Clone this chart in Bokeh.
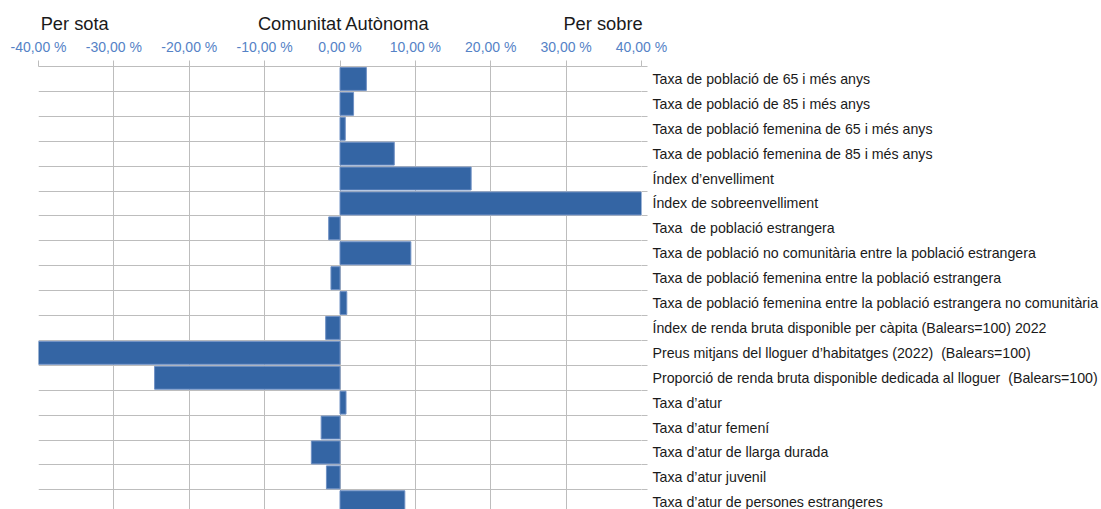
from bokeh.plotting import figure
from bokeh.models import Range1d, FixedTicker, LinearAxis, ColumnDataSource
from bokeh.embed import file_html
from bokeh.resources import INLINE

categories = [
    "Taxa de població de 65 i més anys",
    "Taxa de població de 85 i més anys",
    "Taxa de població femenina de 65 i més anys",
    "Taxa de població femenina de 85 i més anys",
    "Índex d’envelliment",
    "Índex de sobreenvelliment",
    "Taxa \u00a0de població estrangera",
    "Taxa de població no comunitària entre la població estrangera",
    "Taxa de població femenina entre la població estrangera",
    "Taxa de població femenina entre la població estrangera no comunitària",
    "Índex de renda bruta disponible per càpita (Balears=100) 2022",
    "Preus mitjans del lloguer d’habitatges (2022) \u00a0(Balears=100)",
    "Proporció de renda bruta disponible dedicada al lloguer \u00a0(Balears=100)",
    "Taxa d’atur",
    "Taxa d’atur femení",
    "Taxa d’atur de llarga durada",
    "Taxa d’atur juvenil",
    "Taxa d’atur de persones estrangeres",
]
values = [3.5, 1.8, 0.7, 7.2, 17.4, 40.3, -1.5, 9.4, -1.2, 0.9,
          -1.9, -40.3, -24.6, 0.8, -2.5, -3.8, -1.8, 8.6]
tick_values = [-40, -30, -20, -10, 0, 10, 20, 30, 40]
tick_labels = ["-40,00 %", "-30,00 %", "-20,00 %", "-10,00 %", "0,00 %",
               "10,00 %", "20,00 %", "30,00 %", "40,00 %"]
headers = ["Per sota", "Comunitat Autònoma", "Per sobre"]

FONT = "Liberation Sans"
GRID = "#bdbdbd"
BAR = "#3465a4"

n = len(categories)
idx = list(range(n))
x_min, x_max = tick_values[0], tick_values[-1]
row_px = 24.9
frame_h = 509 - 66
y_bottom = -0.5 + frame_h / row_px

p = figure(width=1101, height=509,
           x_range=Range1d(x_min, x_max), y_range=Range1d(y_bottom, -0.5),
           x_axis_location="above", y_axis_location="right",
           output_backend="svg", toolbar_location=None,
           min_border_left=38, min_border_right=460,
           min_border_top=66, min_border_bottom=0)
p.outline_line_color = None
p.background_fill_color = "white"

src = ColumnDataSource(dict(y=idx, v=values, z=[0] * n))
p.hbar(y="y", left="z", right="v", height=0.92, source=src,
       fill_color=BAR, line_color="#6f90c4", line_width=1)

# top axis (percent ticks)
xa = p.xaxis[0]
xa.ticker = FixedTicker(ticks=tick_values)
xa.major_label_overrides = {t: l for t, l in zip(tick_values, tick_labels)}
xa.major_label_text_font = FONT
xa.major_label_text_font_size = "14px"
xa.major_label_text_color = "#5582c6"
xa.major_label_standoff = 6
xa.major_tick_out = 6
xa.major_tick_in = 0
xa.minor_tick_line_color = None
xa.major_tick_line_color = GRID
xa.axis_line_color = GRID

# header row as a second axis above
header_x = [-35.2, 0.5, 34.9]
ha = LinearAxis(ticker=FixedTicker(ticks=header_x),
                major_label_overrides={hx: ht for hx, ht in zip(header_x, headers)},
                major_label_text_font=FONT, major_label_text_font_size="18.3px",
                major_label_text_color="#1a1a1a", major_label_standoff=2,
                major_tick_line_color=None, minor_tick_line_color=None,
                major_tick_out=0, major_tick_in=0,
                axis_line_color=None)
p.add_layout(ha, "above")

# right axis: category labels + small boundary ticks
boundaries = [i - 0.5 for i in range(n + 1)]
ya = p.yaxis[0]
ya.ticker = FixedTicker(ticks=idx, minor_ticks=boundaries)
ya.major_label_overrides = {i: c for i, c in zip(idx, categories)}
ya.major_label_text_font = FONT
ya.major_label_text_font_size = "14.2px"
ya.major_label_text_color = "#1a1a1a"
ya.major_label_standoff = 5
ya.axis_line_color = None
ya.major_tick_line_color = None
ya.major_tick_out = 0
ya.minor_tick_out = 6
ya.minor_tick_in = 0
ya.minor_tick_line_color = GRID

p.xgrid.ticker = FixedTicker(ticks=tick_values)
p.xgrid.grid_line_color = GRID
p.ygrid.ticker = FixedTicker(ticks=boundaries)
p.ygrid.grid_line_color = GRID

open("out.html", "w").write(file_html(p, INLINE))
